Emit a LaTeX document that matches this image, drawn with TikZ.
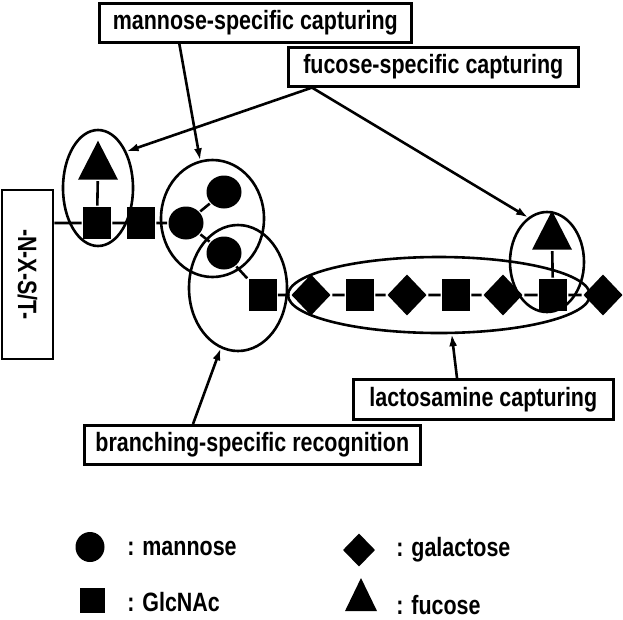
\documentclass[tikz,border=0pt]{standalone}
\usepackage{fontspec}
\setmainfont{Liberation Sans}[FakeStretch=0.81]
\usetikzlibrary{shapes.geometric,arrows.meta}

\begin{document}
\begin{tikzpicture}[
  x=1pt,y=-1pt,line width=2.6pt,
  >={Latex[length=12pt,width=8pt]},
  every node/.style={inner sep=0,font=\bfseries\fontsize{26.5}{30}\selectfont},
  label box/.style={draw,anchor=north west,minimum height=39},
  group/.style={ellipse,draw},
  glcnac/.style={fill,rectangle,minimum width=28,minimum height=32},
  mannose/.style={fill,ellipse,minimum width=35,minimum height=33},
  galactose/.style={fill,diamond,minimum width=40,minimum height=42},
  fucose/.style={fill,isosceles triangle,shape border rotate=90,
    isosceles triangle stretches,minimum width=40,minimum height=39},
  legend text/.style={anchor=west},
  ]
  \useasboundingbox (0,0) rectangle (623,619);
  % text boxes
  \node[label box,minimum width=312] (manbox) at (98,2) {mannose-specific capturing};
  \node[label box,minimum width=290] (fucbox) at (287,46) {fucose-specific capturing};
  \node[label box,minimum width=260,minimum height=40] (lacbox) at (352,378) {lactosamine capturing};
  \node[label box,minimum width=336] (brbox) at (83,424) {branching-specific recognition};
  \node[draw,minimum width=51,minimum height=169] (site) at (27.5,274.5) {};
  \node[rotate=-90] at (site) {-N-X-S/T-};
  % sugar chain
  \node[glcnac] (g1) at (97,223) {};
  \node[glcnac] (g2) at (141,223) {};
  \node[mannose] (m1) at (186,223) {};
  \node[mannose] (m2) at (224,192) {};
  \node[mannose] (m3) at (224,253) {};
  \node[fucose] (f1) at (98,167.5) {};
  \node[glcnac] (g3) at (262.5,295) {};
  \node[galactose] (a1) at (311,295) {};
  \node[glcnac] (g4) at (360,295) {};
  \node[galactose] (a2) at (407,295) {};
  \node[glcnac] (g5) at (456,295) {};
  \node[galactose] (a3) at (503,295) {};
  \node[glcnac] (g6) at (553,295) {};
  \node[galactose] (a4) at (603,295) {};
  \node[fucose] (f2) at (552,237.5) {};
  \draw (g1 -| site.east) -- (g1) -- (g2) -- (m1) -- (m2);
  \draw (m1) -- (m3) -- (g3) -- (a1) -- (g4) -- (a2) -- (g5) -- (a3) -- (g6) -- (a4);
  \draw (g1) -- (f1);
  \draw (g6) -- (f2);
  % recognition groups
  \node[group,minimum width=70,minimum height=116] (fucgrpL) at (98,188) {};
  \node[group,minimum width=103,minimum height=117] (mangrp) at (212.5,218.5) {};
  \node[group,minimum width=98,minimum height=126] (brgrp) at (238,288) {};
  \node[group,minimum width=302,minimum height=76] (lacgrp) at (439,295) {};
  \node[group,minimum width=74,minimum height=100] (fucgrpR) at (547,262) {};
  \coordinate (fucfoot) at ([xshift=25pt]fucbox.south west);
  \draw[->] ([xshift=-76pt]manbox.south) -- (mangrp.102);
  \draw[->] (fucfoot) -- (fucgrpL.52);
  \draw[->] (fucfoot) -- (fucgrpR.113);
  \draw[->] ([xshift=110pt]brbox.north west) -- (brgrp.254);
  \draw[->] ([xshift=105pt]lacbox.north west) -- (lacgrp.288);
  % legend
  \node[mannose,minimum width=29,minimum height=30] (keyman) at (90,547) {};
  \node[legend text] at (126,548) {: mannose};
  \node[glcnac,minimum width=25,minimum height=25] (keyglc) at (92,600) {};
  \node[legend text] at (126,602) {: GlcNAc};
  \node[galactose,minimum width=33,minimum height=34] (keygal) at (359,550) {};
  \node[legend text] at (395,550) {: galactose};
  \node[fucose,minimum width=32,minimum height=33] (keyfuc) at (361,601) {};
  \node[legend text] at (395,605) {: fucose};
\end{tikzpicture}
\end{document}
